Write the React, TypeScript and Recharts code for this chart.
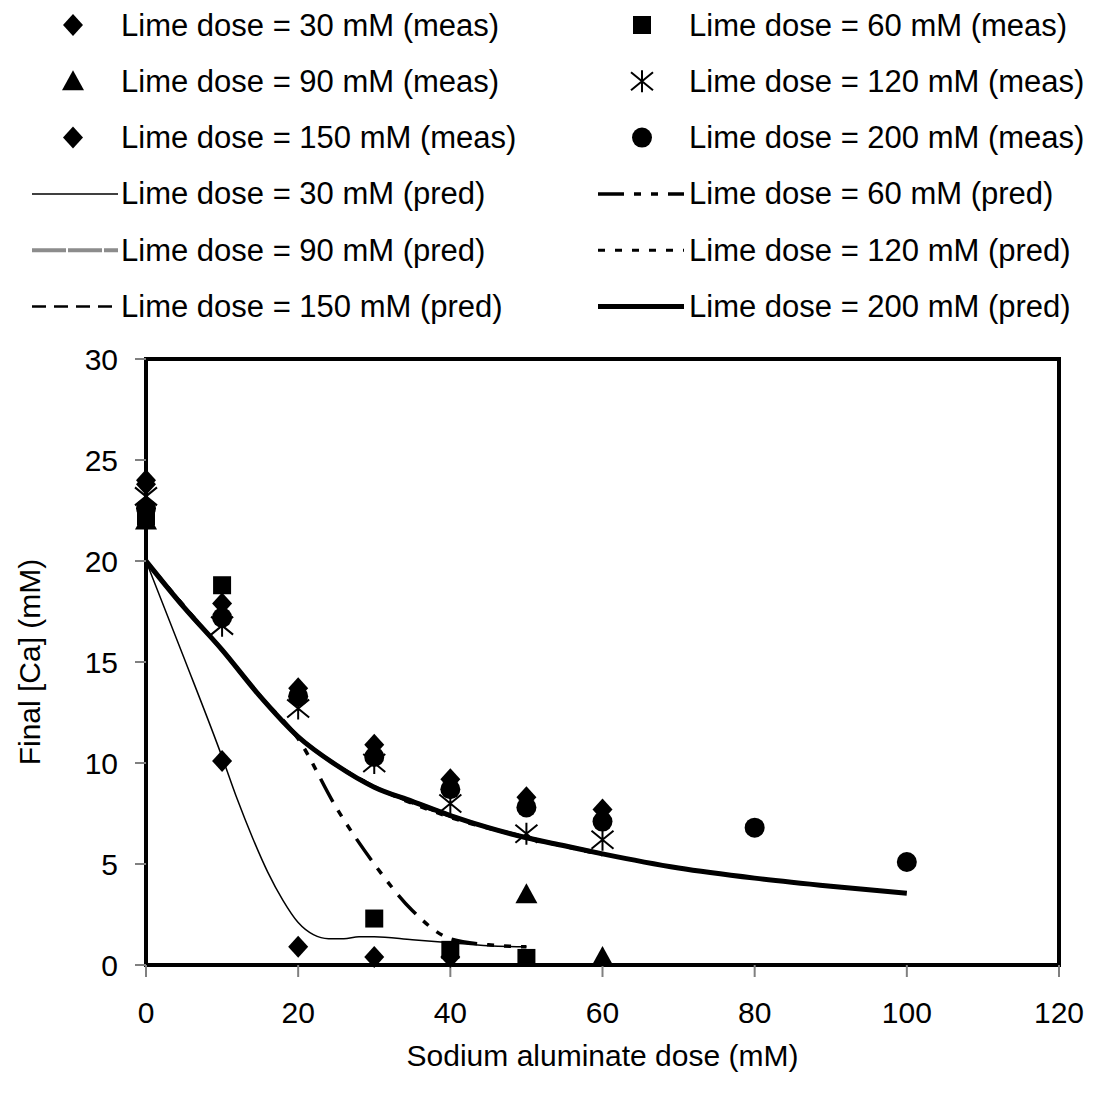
import React from "react"
import { ComposedChart, Line, Scatter, XAxis, YAxis, ReferenceArea } from "recharts"

const FONT = '"Liberation Sans", Arial, Helvetica, sans-serif'

// measured final [Ca] (mM) vs sodium aluminate dose (mM)
const meas30X = [0, 10, 20, 30, 40]
const meas30Y = [24.0, 10.1, 0.9, 0.4, 0.4]
const meas60X = [0, 10, 30, 40, 50]
const meas60Y = [22.2, 18.8, 2.3, 0.75, 0.35]
const meas90X = [0, 50, 60]
const meas90Y = [22.0, 3.5, 0.4]
const meas120X = [0, 10, 20, 30, 40, 50, 60]
const meas120Y = [23.2, 16.8, 12.7, 10.0, 8.0, 6.5, 6.2]
const meas150X = [0, 10, 20, 30, 40, 50, 60]
const meas150Y = [23.8, 17.9, 13.7, 10.9, 9.2, 8.3, 7.7]
const meas200X = [0, 10, 20, 30, 40, 50, 60, 80, 100]
const meas200Y = [22.6, 17.2, 13.3, 10.3, 8.7, 7.8, 7.1, 6.8, 5.1]

// predicted curves
const pred30X = [0, 5, 10, 12, 14, 16, 18, 20, 22, 24, 26, 28, 30, 35, 40, 45, 50]
const pred30Y = [20, 15.2, 10.3, 8.2, 6.3, 4.6, 3.2, 2.1, 1.5, 1.3, 1.3, 1.4, 1.4, 1.25, 1.1, 0.95, 0.9]
const pred60X = [0, 5, 10, 15, 20, 25, 30, 35, 40, 45, 50]
const pred60Y = [20, 17.7, 15.6, 13.3, 11.2, 7.8, 5.0, 2.7, 1.3, 1.0, 0.9]
const pred90X = [0, 5, 10, 15, 20, 25, 30, 35, 40, 45, 50, 55, 60]
const pred90Y = [20, 17.7, 15.6, 13.3, 11.3, 9.9, 8.8, 8.1, 7.4, 6.8, 6.3, 5.9, 5.5]
const pred120X = [0, 10, 20, 30, 40, 50, 60]
const pred120Y = [20, 15.6, 11.3, 8.85, 7.3, 6.3, 5.45]
const pred150X = [0, 10, 20, 30, 40, 50, 60]
const pred150Y = [20, 15.6, 11.35, 8.85, 7.35, 6.35, 5.5]
const pred200X = [0, 5, 10, 15, 20, 25, 30, 35, 40, 45, 50, 55, 60, 70, 80, 90, 100]
const pred200Y = [20, 17.7, 15.6, 13.3, 11.3, 9.9, 8.8, 8.1, 7.4, 6.8, 6.3, 5.9, 5.5, 4.8, 4.3, 3.9, 3.55]

const xTicks = [0, 20, 40, 60, 80, 100, 120]
const yTicks = [0, 5, 10, 15, 20, 25, 30]

const zip = (xs: number[], ys: number[]) => xs.map((x, i) => ({ x, y: ys[i] }))

const Diamond = ({ cx, cy }: any) => (
  <path d={`M${cx},${cy - 11}L${cx + 10},${cy}L${cx},${cy + 11}L${cx - 10},${cy}Z`} fill="#000" />
)
const Square = ({ cx, cy }: any) => <rect x={cx - 9} y={cy - 9} width={18} height={18} fill="#000" />
const Triangle = ({ cx, cy }: any) => (
  <path d={`M${cx},${cy - 11}L${cx + 11},${cy + 9}L${cx - 11},${cy + 9}Z`} fill="#000" />
)
const Dot = ({ cx, cy }: any) => <circle cx={cx} cy={cy} r={10} fill="#000" />
const Asterisk = ({ cx, cy }: any) => (
  <path
    d={`M${cx},${cy - 11}L${cx},${cy + 11}M${cx - 11},${cy - 9}L${cx + 11},${cy + 9}M${cx - 11},${cy + 9}L${cx + 11},${cy - 9}`}
    stroke="#000"
    strokeWidth={2}
    fill="none"
  />
)

const lineStyles: Record<string, any> = {
  p30: { stroke: "#000", strokeWidth: 1.5 },
  p60: { stroke: "#000", strokeWidth: 3.5, strokeDasharray: "26 10 7 10 7 10" },
  p90: { stroke: "#8c8c8c", strokeWidth: 4, strokeDasharray: "34 2" },
  p120: { stroke: "#000", strokeWidth: 3, strokeDasharray: "7 10" },
  p150: { stroke: "#000", strokeWidth: 2.5, strokeDasharray: "14 8" },
  p200: { stroke: "#000", strokeWidth: 5 },
}

const legendItems = [
  { label: "Lime dose = 30 mM (meas)", shape: Diamond },
  { label: "Lime dose = 60 mM (meas)", shape: Square },
  { label: "Lime dose = 90 mM (meas)", shape: Triangle },
  { label: "Lime dose = 120 mM (meas)", shape: Asterisk },
  { label: "Lime dose = 150 mM (meas)", shape: Diamond },
  { label: "Lime dose = 200 mM (meas)", shape: Dot },
  { label: "Lime dose = 30 mM (pred)", line: "p30" },
  { label: "Lime dose = 60 mM (pred)", line: "p60" },
  { label: "Lime dose = 90 mM (pred)", line: "p90" },
  { label: "Lime dose = 120 mM (pred)", line: "p120" },
  { label: "Lime dose = 150 mM (pred)", line: "p150" },
  { label: "Lime dose = 200 mM (pred)", line: "p200" },
]

function ChartLegend() {
  return (
    <svg width={1097} height={340} style={{ position: "absolute", left: 0, top: 0 }}>
      {legendItems.map((item, i) => {
        const col = i % 2
        const row = Math.floor(i / 2)
        const cy = 25 + row * 56.3
        const iconL = col === 0 ? 32 : 598
        const iconR = col === 0 ? 118 : 684
        const textX = col === 0 ? 121 : 689
        const Shape = item.shape
        return (
          <g key={item.label}>
            {Shape ? (
              <Shape cx={col === 0 ? 73 : 642} cy={cy} />
            ) : (
              <line x1={iconL} x2={iconR} y1={cy} y2={cy} {...lineStyles[item.line as string]} />
            )}
            <text x={textX} y={cy} dominantBaseline="central" fontSize={31} fontFamily={FONT} fill="#000">
              {item.label}
            </text>
          </g>
        )
      })}
    </svg>
  )
}

export default function App() {
  const tickStyle = { fill: "#000", fontSize: 30, fontFamily: FONT }
  const preds: [string, number[], number[]][] = [
    ["p90", pred90X, pred90Y],
    ["p150", pred150X, pred150Y],
    ["p120", pred120X, pred120Y],
    ["p60", pred60X, pred60Y],
    ["p30", pred30X, pred30Y],
    ["p200", pred200X, pred200Y],
  ]
  return (
    <div style={{ position: "absolute", left: 0, top: 0, width: 1097, height: 1095, background: "#fff" }}>
      <ComposedChart width={1097} height={1095} margin={{ top: 359, right: 38, left: 0, bottom: 0 }}>
        <XAxis
          type="number"
          dataKey="x"
          domain={[0, 120]}
          ticks={xTicks}
          axisLine={false}
          tickLine={{ stroke: "#808080", strokeWidth: 2 }}
          tickSize={12}
          tickMargin={25}
          tick={tickStyle}
          height={130}
          label={{
            value: "Sodium aluminate dose (mM)",
            position: "insideBottom",
            offset: 29,
            style: { fontSize: 30, fontFamily: FONT, fill: "#000" },
          }}
        />
        <YAxis
          type="number"
          dataKey="y"
          domain={[0, 30]}
          ticks={yTicks}
          axisLine={false}
          tickLine={{ stroke: "#808080", strokeWidth: 2 }}
          tickSize={11}
          tickMargin={17}
          tick={tickStyle}
          width={146}
          label={{
            value: "Final [Ca] (mM)",
            angle: -90,
            position: "insideLeft",
            offset: 29,
            style: { fontSize: 30, fontFamily: FONT, fill: "#000", textAnchor: "middle" },
          }}
        />
        <ReferenceArea x1={0} x2={120} y1={0} y2={30} fill="none" stroke="#000" strokeWidth={4} />
        {preds.map(([key, xs, ys]) => (
          <Line
            key={key}
            data={zip(xs, ys)}
            dataKey="y"
            type="monotone"
            dot={false}
            activeDot={false}
            isAnimationActive={false}
            {...lineStyles[key]}
          />
        ))}
        <Scatter data={zip(meas90X, meas90Y)} dataKey="y" shape={Triangle} isAnimationActive={false} />
        <Scatter data={zip(meas60X, meas60Y)} dataKey="y" shape={Square} isAnimationActive={false} />
        <Scatter data={zip(meas30X, meas30Y)} dataKey="y" shape={Diamond} isAnimationActive={false} />
        <Scatter data={zip(meas150X, meas150Y)} dataKey="y" shape={Diamond} isAnimationActive={false} />
        <Scatter data={zip(meas200X, meas200Y)} dataKey="y" shape={Dot} isAnimationActive={false} />
        <Scatter data={zip(meas120X, meas120Y)} dataKey="y" shape={Asterisk} isAnimationActive={false} />
      </ComposedChart>
      <ChartLegend />
    </div>
  )
}
